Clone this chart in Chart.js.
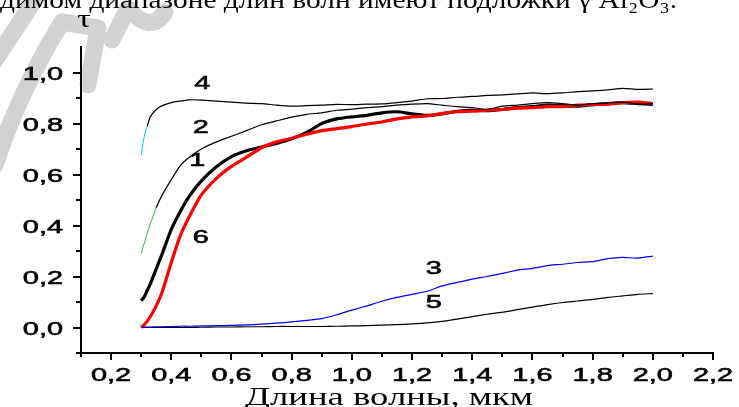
<!DOCTYPE html>
<html>
<head>
<meta charset="utf-8">
<script src="https://cdn.jsdelivr.net/npm/chart.js@4.4.1/dist/chart.umd.min.js"></script>
<style>
    html, body { margin: 0; padding: 0; background: #fff; }
    #wrap { width: 739px; height: 407px; position: relative; }
</style>
</head>
<body>
<div id="wrap"><canvas id="spectraChart"></canvas></div>
<script>
// wavelength, um (shared sampling for all curves)
const wavelength = [0.30, 0.31, 0.32, 0.33, 0.35, 0.37, 0.40, 0.43, 0.46, 0.50,
    0.55, 0.60, 0.65, 0.70, 0.75, 0.80, 0.85, 0.90, 0.95, 1.00,
    1.05, 1.10, 1.15, 1.20, 1.25, 1.30, 1.35, 1.40, 1.45, 1.50,
    1.55, 1.60, 1.65, 1.70, 1.75, 1.80, 1.85, 1.90, 1.95, 2.00];

// transmittance tau for each sample
const curve1 = [0.105, 0.12, 0.145, 0.17, 0.23, 0.29, 0.385, 0.455, 0.515, 0.575,
    0.63, 0.67, 0.693, 0.708, 0.722, 0.74, 0.765, 0.80, 0.818, 0.826,
    0.832, 0.842, 0.846, 0.838, 0.832, 0.838, 0.848, 0.852, 0.85, 0.855,
    0.862, 0.866, 0.872, 0.87, 0.868, 0.874, 0.878, 0.882, 0.878, 0.875];
const curve2 = [0.29, 0.33, 0.37, 0.405, 0.47, 0.52, 0.58, 0.635, 0.668, 0.70,
    0.728, 0.75, 0.772, 0.795, 0.81, 0.825, 0.836, 0.842, 0.852, 0.856,
    0.862, 0.866, 0.872, 0.876, 0.878, 0.872, 0.866, 0.862, 0.856, 0.868,
    0.872, 0.878, 0.882, 0.878, 0.872, 0.878, 0.88, 0.884, 0.876, 0.878];
const curve3 = [0.0, 0.001, 0.002, 0.002, 0.003, 0.003, 0.004, 0.005, 0.005, 0.006,
    0.007, 0.008, 0.01, 0.013, 0.017, 0.022, 0.028, 0.035, 0.05, 0.068,
    0.085, 0.103, 0.118, 0.13, 0.142, 0.163, 0.177, 0.19, 0.2, 0.212,
    0.225, 0.232, 0.243, 0.248, 0.255, 0.258, 0.27, 0.275, 0.272, 0.28];
const curve4 = [0.675, 0.75, 0.79, 0.825, 0.855, 0.87, 0.882, 0.888, 0.893, 0.892,
    0.888, 0.884, 0.88, 0.878, 0.872, 0.868, 0.87, 0.872, 0.875, 0.874,
    0.876, 0.877, 0.882, 0.888, 0.897, 0.898, 0.903, 0.906, 0.91, 0.912,
    0.916, 0.92, 0.917, 0.92, 0.925, 0.928, 0.932, 0.938, 0.934, 0.935];
const curve5 = [0.0, 0.0, 0.0, 0.0, 0.0, 0.0, 0.0, 0.0, 0.0, 0.001,
    0.002, 0.002, 0.003, 0.003, 0.004, 0.004, 0.004, 0.004, 0.005, 0.006,
    0.007, 0.009, 0.011, 0.014, 0.018, 0.024, 0.033, 0.043, 0.052, 0.06,
    0.07, 0.08, 0.09, 0.098, 0.104, 0.11, 0.118, 0.124, 0.13, 0.133];
const curve6 = [0.0, 0.01, 0.025, 0.042, 0.085, 0.14, 0.255, 0.36, 0.435, 0.52,
    0.585, 0.632, 0.668, 0.705, 0.728, 0.742, 0.758, 0.772, 0.78, 0.788,
    0.798, 0.806, 0.818, 0.826, 0.83, 0.84, 0.846, 0.848, 0.852, 0.855,
    0.86, 0.862, 0.866, 0.866, 0.872, 0.874, 0.876, 0.882, 0.884, 0.878];

// axis ticks
const xTickValues = [0.2, 0.4, 0.6, 0.8, 1.0, 1.2, 1.4, 1.6, 1.8, 2.0, 2.2];
const xTickLabels = ['0,2', '0,4', '0,6', '0,8', '1,0', '1,2', '1,4', '1,6', '1,8', '2,0', '2,2'];
const xMinorTicks = [0.1, 0.3, 0.5, 0.7, 0.9, 1.1, 1.3, 1.5, 1.7, 1.9, 2.1];
const yTickValues = [0.0, 0.2, 0.4, 0.6, 0.8, 1.0];
const yTickLabels = ['0,0', '0,2', '0,4', '0,6', '0,8', '1,0'];
const yMinorTicks = [-0.1, 0.1, 0.3, 0.5, 0.7, 0.9];

// curve numbers written next to the lines (data coordinates)
const curveNames = ['4', '2', '1', '6', '3', '5'];
const curveNameX = [0.503, 0.498, 0.486, 0.498, 1.272, 1.272];
const curveNameY = [0.964, 0.792, 0.662, 0.36, 0.237, 0.104];

const xTitle = 'Длина волны, мкм';
const yTitle = 'τ';
const topLine = 'димом диапазоне длин волн имеют подложки γ Al₂O₃.';

function toPoints(values) {
    return wavelength.map((w, i) => ({x: w, y: values[i]}));
}

// the source picture is stretched sideways, so texts get a horizontal scale
function stretchText(ctx, text, x, y, sx, align, bold) {
    ctx.save();
    ctx.translate(x, y);
    ctx.scale(sx, 1);
    ctx.textAlign = align;
    ctx.fillText(text, 0, 0);
    if (bold) {
        ctx.lineWidth = bold;
        ctx.strokeText(text, 0, 0);
    }
    ctx.restore();
}

const decorPlugin = {
    id: 'decor',
    beforeDraw(chart) {
        const ctx = chart.ctx;
        ctx.save();
        ctx.fillStyle = '#fff';
        ctx.fillRect(0, 0, chart.width, chart.height);
        // grey watermark strokes behind the plot
        ctx.strokeStyle = '#d2d2d2';
        ctx.lineWidth = 17;
        ctx.lineCap = 'round';
        ctx.lineJoin = 'round';
        ctx.beginPath();
        ctx.moveTo(-5, 60); ctx.lineTo(38, -5);
        ctx.stroke();
        ctx.beginPath();
        ctx.moveTo(-5, 165); ctx.quadraticCurveTo(20, 90, 62, 22);
        ctx.lineTo(98, 28);
        ctx.lineTo(88, 85);
        ctx.stroke();
        ctx.beginPath();
        ctx.moveTo(112, 40); ctx.lineTo(128, 8);
        ctx.quadraticCurveTo(150, 35, 165, 12);
        ctx.stroke();
        ctx.restore();
    },
    afterDraw(chart) {
        const ctx = chart.ctx;
        const xs = chart.scales.x;
        const ys = chart.scales.y;
        const area = chart.chartArea;
        ctx.save();
        ctx.strokeStyle = '#000';
        ctx.fillStyle = '#000';
        ctx.lineWidth = 2;
        // tick marks
        ctx.beginPath();
        xTickValues.forEach(v => {
            const px = Math.round(xs.getPixelForValue(v));
            ctx.moveTo(px, area.bottom); ctx.lineTo(px, area.bottom + 7);
        });
        xMinorTicks.forEach(v => {
            const px = Math.round(xs.getPixelForValue(v));
            ctx.moveTo(px, area.bottom); ctx.lineTo(px, area.bottom + 4);
        });
        yTickValues.forEach(v => {
            const py = Math.round(ys.getPixelForValue(v));
            ctx.moveTo(area.left, py); ctx.lineTo(area.left - 8, py);
        });
        yMinorTicks.forEach(v => {
            const py = Math.round(ys.getPixelForValue(v));
            ctx.moveTo(area.left, py); ctx.lineTo(area.left - 5, py);
        });
        ctx.stroke();

        // tick labels (wide sans)
        ctx.font = '19px "Liberation Sans", Arial, sans-serif';
        ctx.textBaseline = 'alphabetic';
        xTickValues.forEach((v, i) => {
            stretchText(ctx, xTickLabels[i], xs.getPixelForValue(v), area.bottom + 28, 1.52, 'center', 0.6);
        });
        yTickValues.forEach((v, i) => {
            stretchText(ctx, yTickLabels[i], area.left - 18, ys.getPixelForValue(v) + 7, 1.52, 'right', 0.6);
        });

        // curve numbers
        curveNames.forEach((t, i) => {
            stretchText(ctx, t, xs.getPixelForValue(curveNameX[i]), ys.getPixelForValue(curveNameY[i]) + 7, 1.52, 'center', 0.6);
        });

        // serif texts
        ctx.font = '26px "Liberation Serif", "Times New Roman", serif';
        ctx.textAlign = 'left';
        let w = ctx.measureText(xTitle).width;
        stretchText(ctx, xTitle, 245, 405, 288 / w, 'left');
        stretchText(ctx, yTitle, area.left + 3, 27, 1.3, 'center');
        ctx.font = '26px "Liberation Serif", "Times New Roman", serif';
        w = ctx.measureText(topLine).width;
        stretchText(ctx, topLine, 0, 8, 677 / w, 'left');
        ctx.restore();
    }
};

const thin = 1.2;
const thick = 3.2;

new Chart(document.getElementById('spectraChart'), {
    type: 'line',
    data: {
        datasets: [
            {
                label: '4',
                data: toPoints(curve4),
                borderColor: '#000',
                borderWidth: thin,
                segment: {borderColor: c => c.p0.parsed.x < 0.32 ? '#19d9e8' : undefined}
            },
            {
                label: '2',
                data: toPoints(curve2),
                borderColor: '#000',
                borderWidth: thin,
                segment: {borderColor: c => c.p0.parsed.x < 0.34 ? '#5fbf5f' : undefined}
            },
            {label: '3', data: toPoints(curve3), borderColor: '#0000ff', borderWidth: thin},
            {label: '5', data: toPoints(curve5), borderColor: '#000', borderWidth: thin},
            {label: '6', data: toPoints(curve6), borderColor: '#ff0000', borderWidth: thick},
            {label: '1', data: toPoints(curve1), borderColor: '#000', borderWidth: thick}
        ]
    },
    options: {
        responsive: true,
        maintainAspectRatio: false,
        animation: false,
        parsing: false,
        layout: {padding: {left: 73, right: 26, top: 47, bottom: 46}},
        elements: {point: {radius: 0}, line: {tension: 0.2, fill: false}},
        plugins: {legend: {display: false}, tooltip: {enabled: false}},
        scales: {
            x: {
                type: 'linear',
                min: 0.1,
                max: 2.2,
                grid: {display: false},
                ticks: {display: false},
                border: {display: true, color: '#000', width: 2}
            },
            y: {
                type: 'linear',
                min: -0.1,
                max: 1.1,
                grid: {display: false},
                ticks: {display: false},
                border: {display: true, color: '#000', width: 2}
            }
        }
    },
    plugins: [decorPlugin]
});
</script>
</body>
</html>
